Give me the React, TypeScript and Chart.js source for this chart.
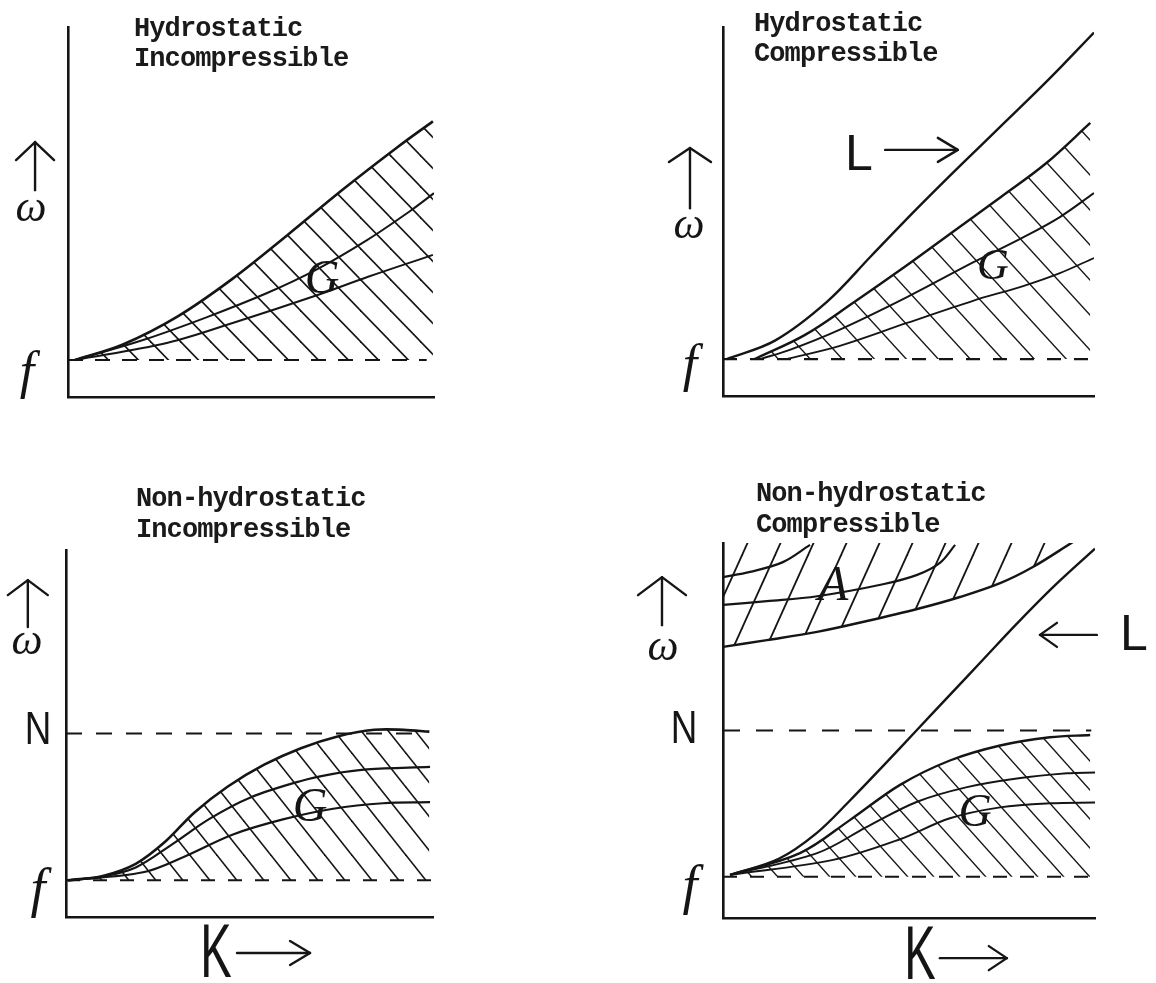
import { useEffect, useRef } from 'react';
import { Chart, registerables } from 'chart.js';
Chart.register(...registerables);

type Pt = [number, number];
const INK = '#151515';

// ---------- Panel 1: Hydrostatic / Incompressible ----------
const HI_F = 1.0;
const HI_G_UPPER: Pt[] = [[0.19, 1.0], [1.5, 1.42], [3.0, 2.18], [4.5, 3.2], [6.0, 4.38], [7.5, 5.6], [9.0, 6.75], [9.97, 7.45]];
const HI_G_MID: Pt[] = [[0.19, 1.0], [2.05, 1.54], [3.8, 2.16], [5.44, 2.81], [6.8, 3.45], [8.17, 4.24], [9.34, 5.02], [10, 5.51]];
const HI_G_LOW: Pt[] = [[0.19, 1.0], [2.7, 1.46], [4.5, 2.0], [6.8, 2.75], [8.2, 3.25], [9.97, 3.84]];
const HI_F_LINE: Pt[] = [[0, HI_F], [9.8, HI_F]];

// ---------- Panel 2: Hydrostatic / Compressible ----------
const HC_F = 1.0;
const HC_L: Pt[] = [[0.1, 1.0], [1.4, 1.5], [2.8, 2.55], [4.0, 3.8], [5.2, 5.05], [6.4, 6.25], [7.6, 7.42], [8.8, 8.6], [10, 9.85]];
const HC_G_UPPER: Pt[] = [[0.85, 1.0], [2.2, 1.65], [3.5, 2.52], [4.9, 3.5], [6.2, 4.45], [7.5, 5.4], [8.7, 6.3], [9.9, 7.4]];
const HC_G_MID: Pt[] = [[1.0, 1.0], [1.8, 1.25], [3.15, 1.8], [4.96, 2.68], [6.74, 3.62], [8.09, 4.3], [9.08, 4.85], [10, 5.5]];
const HC_G_LOW: Pt[] = [[1.7, 1.0], [3.15, 1.36], [4.96, 1.98], [6.74, 2.58], [8.09, 2.98], [9.08, 3.33], [10, 3.74]];
const HC_F_LINE: Pt[] = [[0, HC_F], [9.9, HC_F]];

// ---------- Panel 3: Non-hydrostatic / Incompressible ----------
const NI_F = 1.0;
const NI_N = 5.0;
const NI_G_UPPER: Pt[] = [[0.05, 1.0], [1.0, 1.12], [1.9, 1.45], [2.7, 2.05], [3.5, 2.85], [4.4, 3.55], [5.4, 4.15], [6.4, 4.6], [7.4, 4.92], [8.4, 5.1], [9.2, 5.1], [9.9, 5.05]];
const NI_G_MID: Pt[] = [[0.05, 1.0], [1.0, 1.1], [1.9, 1.35], [2.92, 2.0], [3.92, 2.68], [5.01, 3.25], [6.38, 3.7], [7.28, 3.9], [8.2, 4.02], [9.92, 4.09]];
const NI_G_LOW: Pt[] = [[0.05, 1.0], [2.1, 1.22], [3.19, 1.63], [4.55, 2.25], [5.91, 2.66], [7.28, 2.95], [8.64, 3.1], [9.92, 3.13]];
const NI_F_LINE: Pt[] = [[0, NI_F], [10, NI_F]];
const NI_N_LINE: Pt[] = [[0, NI_N], [9.8, NI_N]];

// ---------- Panel 4: Non-hydrostatic / Compressible ----------
const NC_F = 1.1;
const NC_N = 5.0;
const NC_L: Pt[] = [[0.19, 1.15], [1.5, 1.58], [2.5, 2.25], [3.4, 3.12], [4.3, 4.05], [5.2, 5.0], [6.1, 5.95], [7.0, 6.9], [7.9, 7.85], [8.9, 8.85], [10, 9.85]];
const NC_G_UPPER: Pt[] = [[0.19, 1.15], [2.07, 1.73], [3.41, 2.61], [4.76, 3.55], [6.1, 4.2], [7.45, 4.6], [8.79, 4.82], [9.87, 4.88]];
const NC_G_MID: Pt[] = [[0.19, 1.15], [2.53, 1.73], [3.87, 2.43], [5.22, 3.1], [6.56, 3.49], [7.9, 3.72], [9.25, 3.86], [10, 3.88]];
const NC_G_LOW: Pt[] = [[0.19, 1.15], [2.96, 1.55], [4.76, 2.1], [6.1, 2.66], [7.45, 2.95], [8.79, 3.06], [10, 3.08]];
const NC_A_LOW: Pt[] = [[0, 7.23], [1.18, 7.41], [2.53, 7.63], [3.87, 7.92], [5.22, 8.24], [6.37, 8.56], [7.45, 8.93], [8.33, 9.36], [9.41, 10.03]];
const NC_A_MID: Pt[] = [[0, 8.35], [1.18, 8.45], [2.53, 8.58], [4.3, 8.9], [5.22, 9.15], [5.83, 9.47], [6.24, 9.95]];
const NC_A_UP: Pt[] = [[0, 9.09], [0.73, 9.23], [1.61, 9.49], [2.34, 9.95]];
const NC_F_LINE: Pt[] = [[0, NC_F], [10, NC_F]];
const NC_N_LINE: Pt[] = [[0, NC_N], [9.9, NC_N]];

type Arrow = { from: Pt; to: Pt; hl: number; hw: number };

function hatch(ctx: CanvasRenderingContext2D, w: number, h: number, dir: 'back' | 'fwd', lw = 1.6): CanvasPattern | string {
  const c = document.createElement('canvas');
  c.width = w;
  c.height = h;
  const g = c.getContext('2d')!;
  g.strokeStyle = INK;
  g.lineWidth = lw;
  for (const dx of [-w, 0, w]) {
    g.beginPath();
    if (dir === 'back') {
      g.moveTo(dx - w, -h);
      g.lineTo(dx + 2 * w, 2 * h);
    } else {
      g.moveTo(dx - w, 2 * h);
      g.lineTo(dx + 2 * w, -h);
    }
    g.stroke();
  }
  return ctx.createPattern(c, 'repeat') || 'transparent';
}

function curve(pts: Pt[], width: number, extra: Record<string, unknown> = {}) {
  return {
    data: pts.map(([x, y]) => ({ x, y })),
    borderColor: INK,
    borderWidth: width,
    pointRadius: 0,
    tension: 0.35,
    fill: false,
    ...extra,
  };
}

function dashed(pts: Pt[], dash: number[]) {
  return curve(pts, 2.1, { borderDash: dash, tension: 0 });
}

const arrowPlugin = {
  id: 'sketchArrows',
  afterDraw(chart: any, _args: any, opts: any) {
    const { ctx } = chart;
    const sx = chart.scales.x;
    const sy = chart.scales.y;
    ctx.save();
    ctx.strokeStyle = INK;
    ctx.lineWidth = 2.4;
    ctx.lineCap = 'round';
    ctx.lineJoin = 'round';
    for (const a of (opts.arrows || []) as Arrow[]) {
      const x1 = sx.getPixelForValue(a.from[0]);
      const y1 = sy.getPixelForValue(a.from[1]);
      const x2 = sx.getPixelForValue(a.to[0]);
      const y2 = sy.getPixelForValue(a.to[1]);
      ctx.beginPath();
      ctx.moveTo(x1, y1);
      ctx.lineTo(x2, y2);
      ctx.stroke();
      const ang = Math.atan2(y2 - y1, x2 - x1);
      const bx = x2 - Math.cos(ang) * a.hl;
      const by = y2 - Math.sin(ang) * a.hl;
      const px = -Math.sin(ang) * a.hw;
      const py = Math.cos(ang) * a.hw;
      ctx.beginPath();
      ctx.moveTo(bx + px, by + py);
      ctx.lineTo(x2, y2);
      ctx.lineTo(bx - px, by - py);
      ctx.stroke();
    }
    ctx.restore();
  },
};

type PanelProps = {
  left: number;
  top: number;
  width: number;
  height: number;
  padding: { left: number; top: number; right: number; bottom: number };
  makeDatasets: (ctx: CanvasRenderingContext2D) => any[];
  arrows: Arrow[];
};

function Panel({ left, top, width, height, padding, makeDatasets, arrows }: PanelProps) {
  const ref = useRef<HTMLCanvasElement>(null);
  useEffect(() => {
    const canvas = ref.current!;
    const ctx = canvas.getContext('2d')!;
    const axis = (min: number, max: number) => ({
      type: 'linear',
      min,
      max,
      display: true,
      grid: { display: false, drawTicks: false },
      ticks: { display: false },
      border: { display: true, color: INK, width: 2.6 },
    });
    const chart = new Chart(canvas, {
      type: 'line',
      data: { datasets: makeDatasets(ctx) },
      options: {
        animation: false,
        responsive: false,
        devicePixelRatio: 1,
        layout: { padding },
        scales: { x: axis(0, 10) as any, y: axis(0, 10) as any },
        plugins: {
          legend: { display: false },
          tooltip: { enabled: false },
          sketchArrows: { arrows },
        } as any,
      },
      plugins: [arrowPlugin as any],
    });
    return () => chart.destroy();
  }, []);
  return (
    <canvas
      ref={ref}
      width={width}
      height={height}
      style={{ position: 'absolute', left, top, width, height }}
    />
  );
}

const TITLE_FONT: React.CSSProperties = {
  position: 'absolute',
  fontFamily: '"Liberation Mono", "Courier New", monospace',
  fontWeight: 'bold',
  fontSize: 27,
  letterSpacing: -0.9,
  lineHeight: 1,
  whiteSpace: 'pre',
  color: '#1a1a1a',
};

function Title({ x, base, text }: { x: number; base: number; text: string }) {
  return <div style={{ ...TITLE_FONT, left: x, top: base - 21 }}>{text}</div>;
}

const SERIF_I = { fontFamily: '"Liberation Serif", serif', fontStyle: 'italic' } as const;
const SANS = { fontFamily: '"Liberation Sans", sans-serif' } as const;

function Hand({ x, y, text, size, font, sx = 1 }: { x: number; y: number; text: string; size: number; font: any; sx?: number }) {
  return (
    <div
      style={{
        position: 'absolute',
        left: x,
        top: y,
        fontSize: size,
        lineHeight: 1,
        color: INK,
        transform: `translate(-50%, -50%) scaleX(${sx})`,
        ...font,
      }}
    >
      {text}
    </div>
  );
}

export default function App() {
  const p1 = (ctx: CanvasRenderingContext2D) => [
    curve(HI_G_UPPER, 2.6, { fill: { value: HI_F }, backgroundColor: hatch(ctx, 30, 31, 'back') }),
    curve(HI_G_MID, 2.0),
    curve(HI_G_LOW, 2.0),
    dashed(HI_F_LINE, [15, 12]),
  ];
  const p2 = (ctx: CanvasRenderingContext2D) => [
    curve(HC_L, 2.4),
    curve(HC_G_UPPER, 2.4, { fill: { value: HC_F }, backgroundColor: hatch(ctx, 32, 35, 'back', 1.4) }),
    curve(HC_G_MID, 2.0),
    curve(HC_G_LOW, 1.8),
    dashed(HC_F_LINE, [14, 13]),
  ];
  const p3 = (ctx: CanvasRenderingContext2D) => [
    curve(NI_G_UPPER, 2.6, { fill: { value: NI_F }, backgroundColor: hatch(ctx, 27, 34, 'back') }),
    curve(NI_G_MID, 2.2),
    curve(NI_G_LOW, 2.2),
    dashed(NI_F_LINE, [14, 13]),
    dashed(NI_N_LINE, [16, 14]),
  ];
  const p4 = (ctx: CanvasRenderingContext2D) => [
    curve(NC_L, 2.4),
    curve(NC_G_UPPER, 2.4, { fill: { value: NC_F }, backgroundColor: hatch(ctx, 26, 29, 'back', 1.4) }),
    curve(NC_G_MID, 2.0),
    curve(NC_G_LOW, 2.0),
    curve(NC_A_LOW, 2.4, { fill: 'end', backgroundColor: hatch(ctx, 33, 73, 'fwd', 1.8) }),
    curve(NC_A_MID, 2.2),
    curve(NC_A_UP, 2.2),
    dashed(NC_F_LINE, [14, 13]),
    dashed(NC_N_LINE, [17, 16]),
  ];

  return (
    <div style={{ position: 'absolute', left: 0, top: 0, width: 1156, height: 983, background: '#fff', overflow: 'hidden' }}>
      <Panel left={0} top={0} width={578} height={480}
        padding={{ left: 68, top: 27, right: 144, bottom: 83 }}
        makeDatasets={p1}
        arrows={[{ from: [-0.9, 5.59], to: [-0.9, 6.89], hl: 18, hw: 19 }]} />
      <Panel left={578} top={0} width={578} height={480}
        padding={{ left: 145, top: 27, right: 62, bottom: 84 }}
        makeDatasets={p2}
        arrows={[
          { from: [-0.89, 5.09], to: [-0.89, 6.72], hl: 14, hw: 21 },
          { from: [4.37, 6.67], to: [6.33, 6.67], hl: 20, hw: 12 },
        ]} />
      <Panel left={0} top={480} width={578} height={503}
        padding={{ left: 66, top: 70, right: 145, bottom: 66 }}
        makeDatasets={p3}
        arrows={[
          { from: [-1.04, 7.9], to: [-1.04, 9.18], hl: 15, hw: 20 },
          { from: [4.66, -0.98], to: [6.65, -0.98], hl: 20, hw: 12 },
        ]} />
      <Panel left={578} top={480} width={578} height={503}
        padding={{ left: 145, top: 63, right: 61, bottom: 65 }}
        makeDatasets={p4}
        arrows={[
          { from: [-1.64, 7.81], to: [-1.64, 9.09], hl: 18, hw: 24 },
          { from: [10.05, 7.55], to: [8.52, 7.55], hl: 17, hw: 12 },
          { from: [5.83, -1.07], to: [7.63, -1.07], hl: 18, hw: 12 },
        ]} />

      <Title x={134} base={37} text="Hydrostatic" />
      <Title x={134} base={67} text="Incompressible" />
      <Title x={754} base={32} text="Hydrostatic" />
      <Title x={754} base={62} text="Compressible" />
      <Title x={136} base={507} text="Non-hydrostatic" />
      <Title x={136} base={538} text="Incompressible" />
      <Title x={756} base={502} text="Non-hydrostatic" />
      <Title x={756} base={533} text="Compressible" />

      <Hand x={31} y={207} text="ω" size={44} font={SERIF_I} />
      <Hand x={27} y={371} text="f" size={52} font={SERIF_I} />
      <Hand x={322} y={277} text="G" size={48} font={SERIF_I} />

      <Hand x={689} y={224} text="ω" size={44} font={SERIF_I} />
      <Hand x={690} y={364} text="f" size={52} font={SERIF_I} />
      <Hand x={859} y={153} text="L" size={50} font={SANS} />
      <Hand x={993} y={265} text="G" size={44} font={SERIF_I} />

      <Hand x={27} y={640} text="ω" size={44} font={SERIF_I} />
      <Hand x={38} y={728} text="N" size={46} font={SANS} sx={0.8} />
      <Hand x={38} y={888} text="f" size={54} font={SERIF_I} />
      <Hand x={216} y={951} text="K" size={76} font={SANS} sx={0.62} />
      <Hand x={310} y={805} text="G" size={48} font={SERIF_I} />

      <Hand x={663} y={646} text="ω" size={44} font={SERIF_I} />
      <Hand x={684} y={727} text="N" size={46} font={SANS} sx={0.8} />
      <Hand x={690} y={885} text="f" size={54} font={SERIF_I} />
      <Hand x={1134} y={633} text="L" size={50} font={SANS} />
      <Hand x={833} y={583} text="A" size={50} font={SERIF_I} />
      <Hand x={975} y={811} text="G" size={46} font={SERIF_I} />
      <Hand x={920} y={953} text="K" size={76} font={SANS} sx={0.62} />
    </div>
  );
}
